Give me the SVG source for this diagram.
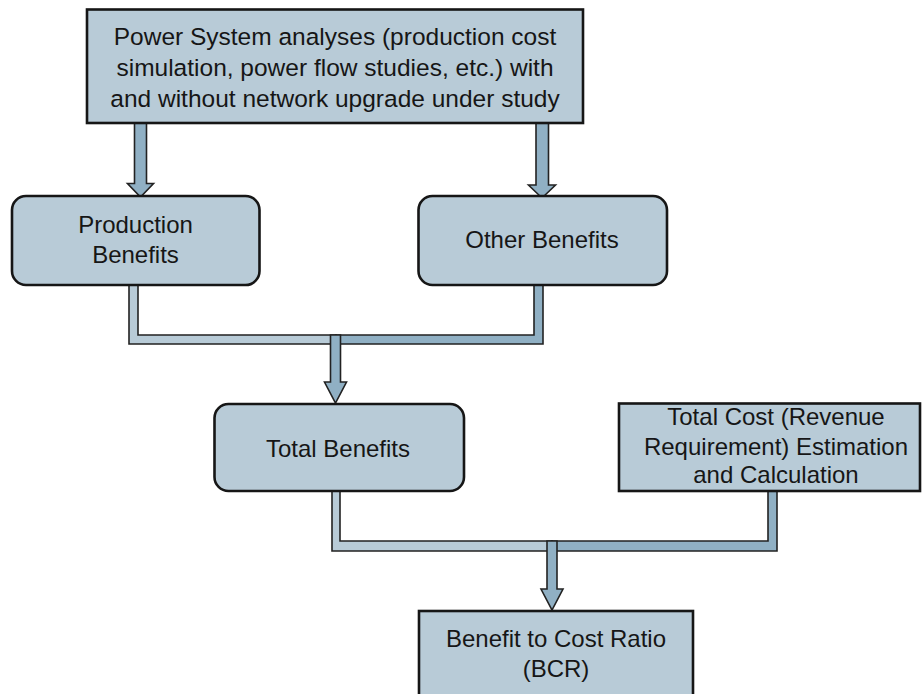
<svg xmlns="http://www.w3.org/2000/svg" width="922" height="694" viewBox="0 0 922 694">
<style>
.box{fill:#b8cbd7;stroke:#161616;stroke-width:2.6}
.lt{fill:#b8cbd7;stroke:#222;stroke-width:1.6;stroke-linejoin:miter}
.dk{fill:#90b0c4;stroke:#222;stroke-width:1.6;stroke-linejoin:miter}
text{font-family:"Liberation Sans",Arial,sans-serif;font-size:24px;fill:#161616;text-anchor:middle}
</style>
<rect width="922" height="694" fill="#fff"/>
<g id="connectors">
<!-- top arrows -->
<polygon class="dk" points="134.5,123 146.5,123 146.5,183.5 153.5,183.5 140.5,197 127.5,183.5 134.5,183.5"/>
<polygon class="dk" points="536,123 548.5,123 548.5,185 555.5,185 542,198 528.5,185 536,185"/>
<!-- merge 1 -->
<polygon class="lt" points="129,285 129,344 336,344 336,335 138,335 138,285"/>
<polygon class="dk" points="543,285 543,344 336,344 336,335 534,335 534,285"/>
<polygon class="dk" points="330.5,335 340.5,335 340.5,382 346.5,382 335.5,403 324.5,382 330.5,382"/>
<!-- merge 2 -->
<polygon class="lt" points="332,491 332,551 552,551 552,541 340,541 340,491"/>
<polygon class="dk" points="777,491 777,551 552,551 552,541 768,541 768,491"/>
<polygon class="dk" points="547,541 557,541 557,589 563,589 552,610 541,589 547,589"/>
</g>
<g id="n_power">
<rect class="box" x="87" y="9.5" width="496" height="113.5"/>
<text x="335" y="45" style="font-size:24.5px">Power System analyses (production cost</text>
<text x="335" y="76" style="font-size:24.5px">simulation, power flow studies, etc.) with</text>
<text x="335" y="107" style="font-size:24.5px">and without network upgrade under study</text>
</g>
<g id="n_prod">
<rect class="box" x="12" y="196" width="247.5" height="89" rx="14"/>
<text x="135.5" y="233">Production</text>
<text x="135.5" y="263">Benefits</text>
</g>
<g id="n_other">
<rect class="box" x="418.5" y="196" width="248.5" height="89" rx="14"/>
<text x="542" y="248">Other Benefits</text>
</g>
<g id="n_total">
<rect class="box" x="214.5" y="404" width="249.5" height="87" rx="14"/>
<text x="338" y="457">Total Benefits</text>
</g>
<g id="n_cost">
<rect class="box" x="619" y="403.5" width="301" height="87.5"/>
<text x="776" y="425">Total Cost (Revenue</text>
<text x="776" y="455">Requirement) Estimation</text>
<text x="776" y="483">and Calculation</text>
</g>
<g id="n_bcr">
<rect class="box" x="419" y="611" width="274" height="100"/>
<text x="556" y="647">Benefit to Cost Ratio</text>
<text x="556" y="677">(BCR)</text>
</g>
</svg>
